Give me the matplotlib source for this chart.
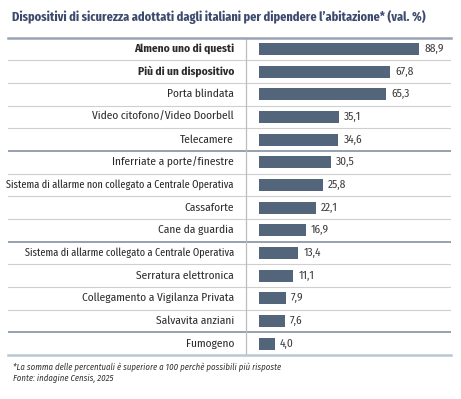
import matplotlib
matplotlib.use("Agg")
import matplotlib.pyplot as plt
import numpy as np

categories = [
    "Almeno uno di questi",
    "Più di un dispositivo",
    "Porta blindata",
    "Video citofono/Video Doorbell",
    "Telecamere",
    "Inferriate a porte/finestre",
    "Sistema di allarme non collegato a Centrale Operativa",
    "Cassaforte",
    "Cane da guardia",
    "Sistema di allarme collegato a Centrale Operativa",
    "Serratura elettronica",
    "Collegamento a Vigilanza Privata",
    "Salvavita anziani",
    "Fumogeno",
]
values = [88.9, 67.8, 65.3, 35.1, 34.6, 30.5, 25.8, 22.1, 16.9, 13.4, 11.1, 7.9, 7.6, 4.0]
bold_rows = [0, 1]
narrow_rows = [6, 9]
group_breaks = [5, 9, 13]

title = "Dispositivi di sicurezza adottati dagli italiani per dipendere l\u2019abitazione* (val. %)"
notes = ["*La somma delle percentuali è superiore a 100 perchè possibili più risposte",
         "Fonte: indagine Censis, 2025"]

COND = ["Fira Sans Condensed", "DejaVu Sans"]
XCOND = ["Fira Sans Extra Condensed", "Fira Sans Condensed", "DejaVu Sans"]
plt.rcParams["font.family"] = COND

W, H = 461, 399
fig = plt.figure(figsize=(W / 100, H / 100), dpi=100)
fig.patch.set_facecolor("white")

def fx(px):
    return px / W

def fy(py):
    return 1 - py / H

top_px, bot_px = 37.5, 355.0
left_px, right_px = 8.0, 451.0
n = len(categories)

bg = fig.add_axes([fx(left_px), fy(bot_px), fx(right_px - left_px), (bot_px - top_px) / H])
bg.set_xlim(0, 1)
bg.set_ylim(n, 0)
bg.axis("off")

for i in range(1, n):
    if i in group_breaks:
        bg.axhline(i, color="#8d98a8", lw=1.3, zorder=1)
    else:
        bg.axhline(i, color="#cfcfcf", lw=0.8, zorder=1)
bg.axhline(0, color="#98a4b4", lw=1.8, zorder=2, clip_on=False)
bg.axhline(n, color="#b9c7d8", lw=1.8, zorder=2, clip_on=False)
vx = (246 - left_px) / (right_px - left_px)
bg.axvline(vx, color="#bdbdbd", lw=0.9, zorder=1)

lx = (234 - left_px) / (right_px - left_px)
for i, c in enumerate(categories):
    fam = XCOND if i in narrow_rows else COND
    size = 8.0 if i in narrow_rows else 8.2
    bg.text(lx, i + 0.5, c, ha="right", va="center", fontsize=size, family=fam,
            color="#2a2a2a", fontweight="bold" if i in bold_rows else "normal")

p = 0.742
ax = fig.add_axes([fx(259), fy(bot_px), fx(451 - 259), (bot_px - top_px) / H])
ax.set_xscale("function", functions=(lambda x: np.power(np.clip(x, 0, None), p),
                                     lambda y: np.power(np.clip(y, 0, None), 1 / p)))
ax.set_xlim(0, 113.6)
ax.set_ylim(n, 0)
ax.axis("off")
ax.patch.set_alpha(0)
ypos = np.arange(n) + 0.5
ax.barh(ypos, values, height=0.53, color="#52657a", zorder=3)
for y, v in zip(ypos, values):
    ax.annotate(f"{v:.1f}".replace(".", ","), xy=(v, y), xytext=(3.6, 0),
                textcoords="offset points", ha="left", va="center",
                fontsize=8.2, color="#3a3a3a")

fig.text(fx(12), fy(17), title, ha="left", va="center", fontsize=9.6,
         fontweight="bold", color="#3b4a6d", family=XCOND)
fig.text(fx(13), fy(367), notes[0], ha="left", va="center", fontsize=6.3,
         style="italic", color="#333333")
fig.text(fx(13), fy(378.5), notes[1], ha="left", va="center", fontsize=6.3,
         style="italic", color="#333333")

fig.savefig("out.png", dpi=100)
